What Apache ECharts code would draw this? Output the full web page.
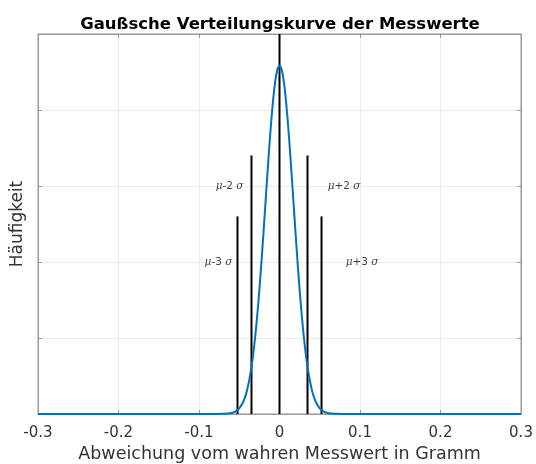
<!DOCTYPE html>
<html>
<head>
<meta charset="utf-8">
<script src="https://cdn.jsdelivr.net/npm/echarts@6/dist/echarts.min.js"></script>
<style>
  html, body { margin: 0; padding: 0; background: #fff; }
  #container { width: 536px; height: 464px; }
</style>
</head>
<body>
<div id="container"></div>
<script>
// Gaußkurve
var curveX = [-0.3, -0.1, -0.08, -0.07, -0.06, -0.055, -0.05, -0.045, -0.0425, -0.04, -0.0375, -0.035, -0.0325, -0.03, -0.0275, -0.025, -0.0225, -0.02, -0.0175, -0.015, -0.0125, -0.01, -0.0075, -0.005, -0.0025, 0,
  0.0025, 0.005, 0.0075, 0.01, 0.0125, 0.015, 0.0175, 0.02, 0.0225, 0.025, 0.0275, 0.03, 0.0325, 0.035, 0.0375, 0.04, 0.0425, 0.045, 0.05, 0.055, 0.06, 0.07, 0.08, 0.1, 0.3];
var curveY = [0, 0, 0, 0.01, 0.06, 0.16, 0.37, 0.81, 1.16, 1.63, 2.25, 3.03, 4.01, 5.19, 6.58, 8.17, 9.94, 11.85, 13.83, 15.81, 17.72, 19.44, 20.9, 22.0, 22.69, 22.93,
  22.69, 22.0, 20.9, 19.44, 17.72, 15.81, 13.83, 11.85, 9.94, 8.17, 6.58, 5.19, 4.01, 3.03, 2.25, 1.63, 1.16, 0.81, 0.37, 0.16, 0.06, 0.01, 0, 0, 0];

// senkrechte Linien bei mu, mu±2sigma, mu±3sigma
var lineX = [0, -0.0348, 0.0348, -0.0522, 0.0522];
var lineH = [25, 17, 17, 13, 13];

// Beschriftungen
var labelText = ['{g|μ}-2 {g|σ}', '{g|μ}+2 {g|σ}', '{g|μ}-3 {g|σ}', '{g|μ}+3 {g|σ}'];
var labelX = [-0.0448, 0.0598, -0.0585, 0.0822];
var labelY = [15, 15, 10, 10];
var labelAlign = ['right', 'left', 'right', 'left'];

var xTicks = [-0.3, 0.3, 0.1];
var yTicks = [0, 25, 5];

var dom = document.getElementById("container");
var myChart = echarts.init(dom);

var curveData = curveX.map(function(x, i) { return [x, curveY[i]]; });

var series = [];
lineX.forEach(function(x, i) {
    series.push({
        type: 'line',
        data: [[x, 0], [x, lineH[i]]],
        symbol: 'none',
        lineStyle: { color: '#000', width: 2 },
        z: 3
    });
});
series.push({
    type: 'line',
    data: curveData,
    symbol: 'none',
    smooth: 0.2,
    lineStyle: { color: '#0072BD', width: 2 },
    z: 4
});
series.push({
    type: 'scatter',
    symbolSize: 0,
    data: labelText.map(function(t, i) {
        return {
            value: [labelX[i], labelY[i]],
            label: { show: true, formatter: t, position: 'inside', align: labelAlign[i], verticalAlign: 'middle' }
        };
    }),
    label: {
        show: true,
        fontFamily: 'DejaVu Sans',
        fontSize: 10.5,
        color: '#111',
        rich: {
            g: { fontFamily: 'DejaVu Serif', fontStyle: 'italic', fontSize: 10.5, color: '#111' }
        }
    },
    z: 5
});

function boxAxis() {
    return { show: true, onZero: false, lineStyle: { color: '#999' } };
}
var tick = { show: true, inside: true, length: 4, lineStyle: { color: '#999' } };
var grid = { show: true, lineStyle: { color: '#ebebeb' } };

var option = {
    animation: false,
    title: {
        text: 'Gaußsche Verteilungskurve der Messwerte',
        left: 275,
        textAlign: 'center',
        top: 11,
        textStyle: { fontFamily: 'DejaVu Sans', fontWeight: 'bold', fontSize: 16.5, color: '#000' }
    },
    grid: {
        left: 38,
        right: 15,
        top: 34,
        bottom: 50,
        outerBoundsMode: 'none',
        containLabel: false,
        show: true,
        borderColor: '#999',
        borderWidth: 1
    },
    xAxis: [{
        type: 'value',
        min: xTicks[0],
        max: xTicks[1],
        interval: xTicks[2],
        name: 'Abweichung vom wahren Messwert in Gramm',
        nameLocation: 'middle',
        nameGap: 31,
        nameTextStyle: { fontFamily: 'DejaVu Sans', fontSize: 17.5, color: '#333' },
        axisLine: boxAxis(),
        axisTick: tick,
        axisLabel: {
            fontFamily: 'DejaVu Sans', fontSize: 15, color: '#333', margin: 12,
            formatter: function(v) { return String(+v.toFixed(1)); }
        },
        splitLine: grid
    }, {
        type: 'value',
        position: 'top',
        min: xTicks[0],
        max: xTicks[1],
        interval: xTicks[2],
        axisLine: boxAxis(),
        axisTick: tick,
        axisLabel: { show: false },
        splitLine: { show: false }
    }],
    yAxis: [{
        type: 'value',
        min: yTicks[0],
        max: yTicks[1],
        interval: yTicks[2],
        name: 'Häufigkeit',
        nameLocation: 'middle',
        nameGap: 12,
        nameTextStyle: { fontFamily: 'DejaVu Sans', fontSize: 17, color: '#333' },
        axisLine: boxAxis(),
        axisTick: tick,
        axisLabel: { show: false },
        splitLine: grid
    }, {
        type: 'value',
        position: 'right',
        min: yTicks[0],
        max: yTicks[1],
        interval: yTicks[2],
        axisLine: boxAxis(),
        axisTick: tick,
        axisLabel: { show: false },
        splitLine: { show: false }
    }],
    series: series
};

myChart.setOption(option, true);
</script>
</body>
</html>
